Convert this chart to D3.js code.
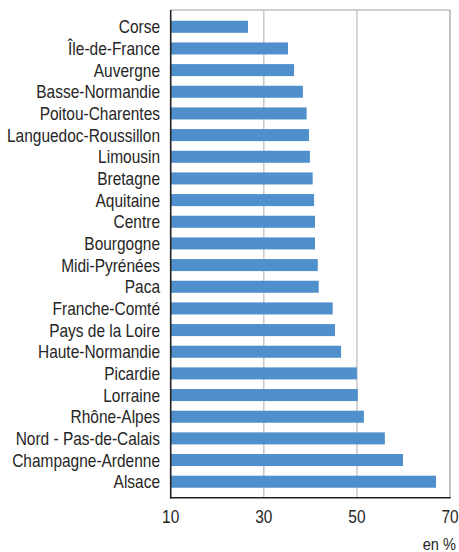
<!DOCTYPE html>
<html><head><meta charset="utf-8">
<script src="https://cdn.jsdelivr.net/npm/d3@7"></script>
<style>body{margin:0;background:#fff}svg{display:block}text{font-family:"Liberation Sans",Arial,sans-serif;fill:#262626}</style>
</head><body><svg id="c" width="459" height="552"></svg>
<script>
const regions = ["Corse","Île-de-France","Auvergne","Basse-Normandie","Poitou-Charentes","Languedoc-Roussillon","Limousin","Bretagne","Aquitaine","Centre","Bourgogne","Midi-Pyrénées","Paca","Franche-Comté","Pays de la Loire","Haute-Normandie","Picardie","Lorraine","Rhône-Alpes","Nord - Pas-de-Calais","Champagne-Ardenne","Alsace"];
const values = [26.6,35.2,36.5,38.4,39.2,39.7,39.9,40.5,40.8,41.0,41.0,41.6,41.8,44.8,45.3,46.6,50.0,50.2,51.5,56.0,59.9,67.0];
const xTicks = [10,30,50,70];
const unitLabel = "en %";

const svg = d3.select("#c");
const x = d3.scaleLinear().domain([10,70]).range([170.7,450]);
const y = d3.scaleBand().domain(regions).range([16,492.5]).paddingInner(0.445).paddingOuter(0.22);
const sx = 0.86;

svg.append("line").attr("x1",170.7).attr("x2",450).attr("y1",10).attr("y2",10)
  .attr("stroke","#bfbfbf").attr("stroke-width",1.5);
svg.append("g").selectAll("line").data(xTicks.slice(1)).join("line")
  .attr("x1",d=>x(d)).attr("x2",d=>x(d)).attr("y1",10).attr("y2",497.5)
  .attr("stroke",d=>d===70?"#b0b0b0":"#c8c8c8").attr("stroke-width",1.5);
svg.append("g").selectAll("rect").data(values).join("rect")
  .attr("x",x(10)).attr("y",(d,i)=>y(regions[i]))
  .attr("width",d=>x(d)-x(10)).attr("height",y.bandwidth())
  .attr("fill","#4f8fcc");
svg.append("line").attr("x1",170.7).attr("x2",170.7).attr("y1",10).attr("y2",498.5).attr("stroke","#222").attr("stroke-width",1.6);
svg.append("line").attr("x1",170).attr("x2",450.7).attr("y1",497.7).attr("y2",497.7).attr("stroke","#222").attr("stroke-width",1.6);
svg.append("g").selectAll("text").data(regions).join("text")
  .attr("transform",d=>`translate(160,${y(d)+y.bandwidth()/2}) scale(${sx},1)`)
  .attr("dy","0.36em").attr("text-anchor","end").attr("font-size",18).text(d=>d);
svg.append("g").selectAll("text").data(xTicks).join("text")
  .attr("transform",d=>`translate(${x(d)},523) scale(${sx},1)`)
  .attr("text-anchor","middle").attr("font-size",18).text(d=>d);
svg.append("text").attr("transform",`translate(456,550) scale(${sx},1)`)
  .attr("text-anchor","end").attr("font-size",17).text(unitLabel);
</script></body></html>
